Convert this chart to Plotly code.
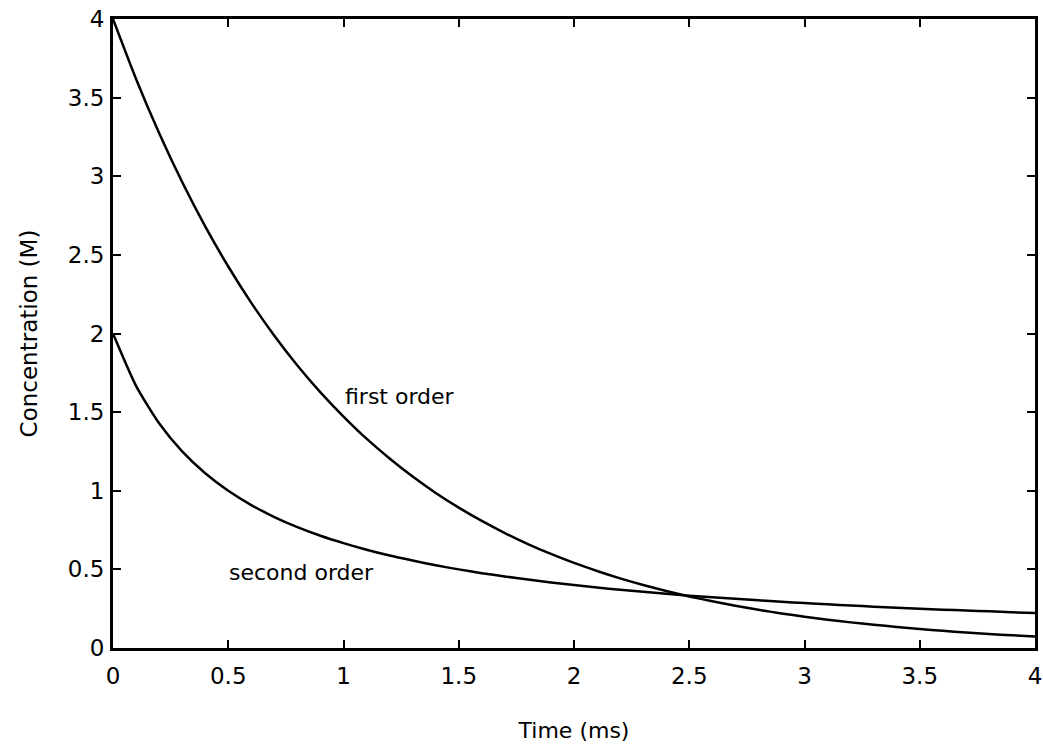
import plotly.graph_objects as go

time_ms = [0.0, 0.1, 0.2, 0.3, 0.4, 0.5, 0.6, 0.7, 0.8, 0.9, 1.0, 1.1, 1.2, 1.3, 1.4, 1.5, 1.6, 1.7, 1.8, 1.9,
           2.0, 2.1, 2.2, 2.3, 2.4, 2.5, 2.6, 2.7, 2.8, 2.9, 3.0, 3.1, 3.2, 3.3, 3.4, 3.5, 3.6, 3.7, 3.8, 3.9, 4.0]
first_order = [4.000, 3.619, 3.275, 2.963, 2.681, 2.426, 2.195, 1.986, 1.797, 1.626, 1.472, 1.331, 1.205, 1.090,
               0.986, 0.893, 0.808, 0.731, 0.661, 0.598, 0.541, 0.490, 0.443, 0.401, 0.363, 0.328, 0.297, 0.269,
               0.243, 0.220, 0.199, 0.180, 0.163, 0.148, 0.134, 0.121, 0.109, 0.099, 0.089, 0.081, 0.073]
second_order = [2.000, 1.667, 1.429, 1.250, 1.111, 1.000, 0.909, 0.833, 0.769, 0.714, 0.667, 0.625, 0.588, 0.556,
                0.526, 0.500, 0.476, 0.455, 0.435, 0.417, 0.400, 0.385, 0.370, 0.357, 0.345, 0.333, 0.323, 0.313,
                0.303, 0.294, 0.286, 0.278, 0.270, 0.263, 0.256, 0.250, 0.244, 0.238, 0.233, 0.227, 0.222]

tick_vals = [0, 0.5, 1, 1.5, 2, 2.5, 3, 3.5, 4]
tick_text = ["0", "0.5", "1", "1.5", "2", "2.5", "3", "3.5", "4"]

FONT = "DejaVu Sans, sans-serif"

fig = go.Figure()
for name, ys in [("first order", first_order), ("second order", second_order)]:
    fig.add_trace(go.Scatter(x=time_ms, y=ys, mode="lines", name=name,
                             line=dict(color="black", width=2.5, shape="spline", smoothing=0.6),
                             showlegend=False))

fig.add_annotation(x=1.245, y=1.60, text="first order", showarrow=False,
                   font=dict(family=FONT, size=22, color="black"))
fig.add_annotation(x=0.816, y=0.483, text="second order", showarrow=False,
                   font=dict(family=FONT, size=22, color="black"))

axis_common = dict(range=[0, 4], tickvals=tick_vals, ticktext=tick_text,
                   ticks="inside", ticklen=8, tickwidth=2, tickcolor="black",
                   showline=True, linecolor="black", linewidth=3, mirror="ticks",
                   showgrid=False, zeroline=False, automargin=False,
                   tickfont=dict(family=FONT, size=23, color="black"))

fig.update_xaxes(**axis_common, ticklabelstandoff=5,
                 title=dict(text="Time (ms)", standoff=36,
                            font=dict(family=FONT, size=22, color="black")))
fig.update_yaxes(**axis_common, ticklabelstandoff=1,
                 title=dict(text="Concentration (M)", standoff=24,
                            font=dict(family=FONT, size=23, color="black")))

fig.update_layout(width=1043, height=747, plot_bgcolor="white", paper_bgcolor="white",
                  margin=dict(l=113, r=8, t=19, b=99))

fig.write_html("out.html")
